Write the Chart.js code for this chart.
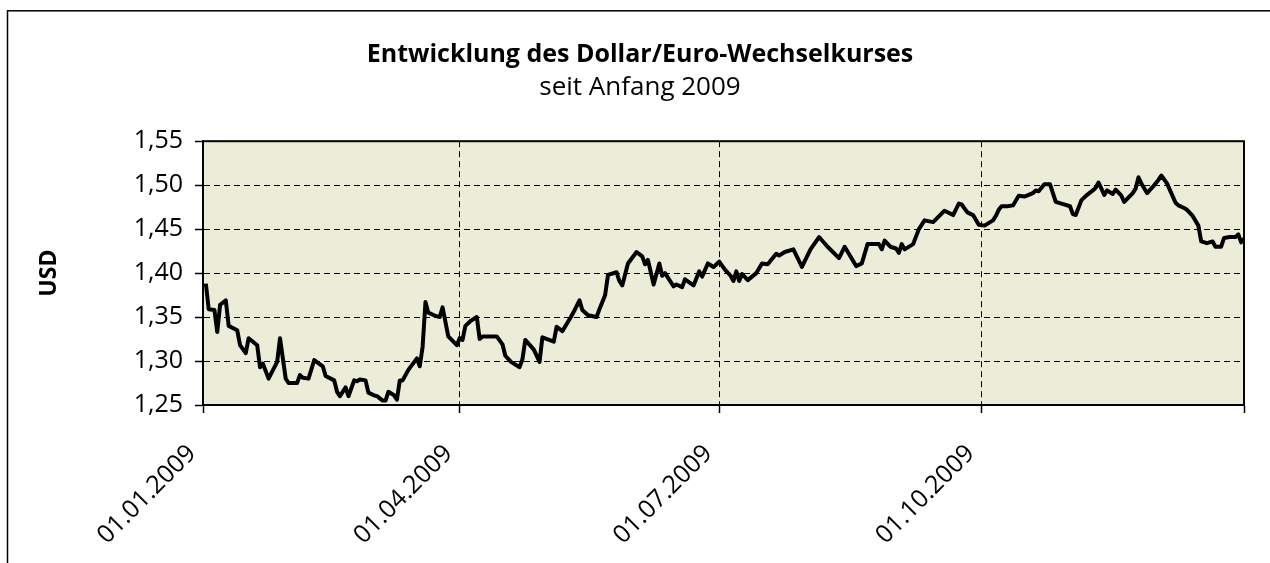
<!DOCTYPE html>
<html lang="de">
<head>
<meta charset="utf-8">
<title>Entwicklung des Dollar/Euro-Wechselkurses</title>
<script src="https://cdn.jsdelivr.net/npm/chart.js@4.4.1/dist/chart.umd.min.js"></script>
<style>
  html, body { margin: 0; padding: 0; background: #fff; }
  #wrap { width: 1270px; height: 563px; position: relative; }
</style>
</head>
<body>
<div id="wrap"><canvas id="kursChart"></canvas></div>
<script>
// Tage seit dem 01.01.2009 und der zugehoerige Kurs (USD je Euro)
const tage = [
  1, 2, 4, 5, 6, 8, 9, 12, 13, 15, 16, 19, 20, 21, 23, 26, 27, 29, 30, 33,
  34, 35, 37, 39, 42, 43, 46, 47, 48, 50, 51, 53, 54, 55, 57, 58, 60, 61, 63, 64,
  65, 67, 68, 69, 70, 72, 75, 76, 77, 78, 79, 81, 83, 84, 86, 89, 90, 91, 92, 94,
  96, 97, 98, 103, 105, 106, 108, 111, 112, 113, 116, 118, 119, 123, 124, 126, 129, 130, 132, 133,
  135, 138, 139, 141, 142, 145, 146, 147, 149, 152, 154, 155, 156, 158, 160, 161, 162, 165, 166, 168,
  169, 172, 174, 175, 177, 179, 181, 183, 185, 186, 187, 188, 189, 191, 194, 196, 198, 201, 202, 204,
  207, 210, 213, 216, 219, 223, 225, 229, 231, 233, 237, 238, 239, 241, 243, 244, 245, 246, 249, 251,
  253, 256, 260, 263, 265, 266, 268, 270, 272, 274, 277, 278, 279, 280, 282, 284, 286, 288, 291, 292,
  293, 295, 297, 299, 301, 304, 305, 306, 308, 310, 312, 313, 314, 316, 317, 319, 320, 322, 323, 326,
  327, 328, 329, 331, 333, 335, 336, 338, 341, 342, 344, 345, 347, 349, 350, 352, 354, 355, 357, 358,
  360, 362, 363, 364, 365
];
const kurse = [
  1.388, 1.359, 1.358, 1.333, 1.364, 1.369, 1.340, 1.335, 1.318, 1.309, 1.326, 1.318, 1.293, 1.297, 1.280, 1.299, 1.326, 1.280, 1.275, 1.275,
  1.284, 1.281, 1.280, 1.301, 1.294, 1.283, 1.278, 1.265, 1.260, 1.270, 1.260, 1.278, 1.277, 1.279, 1.278, 1.264, 1.261, 1.260, 1.255, 1.255,
  1.265, 1.261, 1.256, 1.278, 1.278, 1.290, 1.303, 1.294, 1.316, 1.367, 1.355, 1.352, 1.350, 1.361, 1.328, 1.318, 1.326, 1.324, 1.340, 1.346,
  1.350, 1.325, 1.328, 1.328, 1.319, 1.306, 1.299, 1.293, 1.302, 1.324, 1.313, 1.299, 1.327, 1.322, 1.339, 1.334, 1.350, 1.356, 1.369, 1.358,
  1.352, 1.350, 1.359, 1.375, 1.398, 1.401, 1.391, 1.386, 1.411, 1.424, 1.419, 1.410, 1.415, 1.387, 1.411, 1.397, 1.400, 1.385, 1.387, 1.384,
  1.393, 1.386, 1.402, 1.396, 1.411, 1.407, 1.413, 1.404, 1.397, 1.391, 1.402, 1.391, 1.399, 1.392, 1.400, 1.411, 1.410, 1.422, 1.420, 1.424,
  1.427, 1.407, 1.427, 1.441, 1.430, 1.417, 1.430, 1.408, 1.411, 1.433, 1.433, 1.427, 1.437, 1.430, 1.428, 1.423, 1.433, 1.427, 1.433, 1.450,
  1.460, 1.458, 1.471, 1.466, 1.479, 1.478, 1.469, 1.466, 1.455, 1.454, 1.460, 1.465, 1.472, 1.476, 1.476, 1.477, 1.488, 1.487, 1.491, 1.494,
  1.493, 1.501, 1.501, 1.481, 1.479, 1.476, 1.467, 1.466, 1.483, 1.489, 1.494, 1.497, 1.503, 1.489, 1.494, 1.490, 1.495, 1.488, 1.481, 1.491,
  1.496, 1.509, 1.502, 1.491, 1.498, 1.506, 1.511, 1.502, 1.480, 1.477, 1.474, 1.472, 1.465, 1.454, 1.436, 1.434, 1.436, 1.430, 1.430, 1.440,
  1.441, 1.441, 1.444, 1.435, 1.439
];

// Achsenbeschriftung
const tickTage = [0, 90, 181, 273, 365];
const tickLabels = ["01.01.2009", "01.04.2009", "01.07.2009", "01.10.2009", ""];
const yMin = 1.25;
const yMax = 1.55;
const yStep = 0.05;

const schrift = "'Open Sans', 'Noto Sans', sans-serif";

// Rahmen, Hintergrund der Zeichenflaeche und Umrandung
const rahmenPlugin = {
  id: "rahmen",
  beforeDraw(chart) {
    const ctx = chart.ctx;
    const a = chart.chartArea;
    ctx.save();
    ctx.fillStyle = "#ffffff";
    ctx.fillRect(0, 0, chart.width, chart.height);
    ctx.strokeStyle = "#000000";
    ctx.lineWidth = 1.5;
    ctx.strokeRect(7.5, 10.8, 1400, 700);
    ctx.fillStyle = "#ECEDD8";
    ctx.fillRect(a.left, a.top, a.right - a.left, a.bottom - a.top);
    ctx.restore();
  },
  afterDraw(chart) {
    const ctx = chart.ctx;
    const a = chart.chartArea;
    ctx.save();
    ctx.strokeStyle = "#000000";
    ctx.lineWidth = 2;
    ctx.strokeRect(a.left, a.top, a.right - a.left, a.bottom - a.top);
    ctx.restore();
  }
};

const ctx = document.getElementById("kursChart").getContext("2d");

new Chart(ctx, {
  type: "line",
  data: {
    datasets: [{
      label: "USD je Euro",
      data: tage.map((t, i) => ({ x: t, y: kurse[i] })),
      borderColor: "#000000",
      borderWidth: 4,
      borderJoinStyle: "round",
      pointRadius: 0,
      tension: 0,
      fill: false
    }]
  },
  options: {
    responsive: true,
    maintainAspectRatio: false,
    animation: false,
    layout: { padding: { left: 36, right: 26, top: 12, bottom: 0 } },
    plugins: {
      legend: { display: false },
      tooltip: { enabled: false },
      title: {
        display: true,
        text: "Entwicklung des Dollar/Euro-Wechselkurses",
        color: "#000000",
        font: { family: schrift, size: 25, weight: "bold", lineHeight: 1.2 },
        padding: { top: 28, bottom: 0 }
      },
      subtitle: {
        display: true,
        text: "seit Anfang 2009",
        color: "#000000",
        font: { family: schrift, size: 26, weight: "normal", lineHeight: 1.2 },
        padding: { top: 2, bottom: 38 }
      }
    },
    scales: {
      x: {
        type: "linear",
        min: 0,
        max: 365,
        afterBuildTicks: (scale) => {
          scale.ticks = tickTage.map((v) => ({ value: v }));
        },
        afterFit: (scale) => {
          scale.height = 158;
          scale.paddingLeft = 0;
          scale.paddingRight = 0;
        },
        ticks: {
          autoSkip: false,
          minRotation: 45,
          maxRotation: 45,
          padding: 26,
          labelOffset: -11,
          color: "#000000",
          font: { family: schrift, size: 25 },
          callback: (value) => tickLabels[tickTage.indexOf(value)]
        },
        grid: {
          color: "#000000",
          lineWidth: 1,
          tickLength: 8,
          tickWidth: 1.5
        },
        border: { display: true, color: "#000000", width: 2, dash: [6, 4] }
      },
      y: {
        min: yMin,
        max: yMax,
        afterFit: (scale) => { scale.width = 167; },
        ticks: {
          stepSize: yStep,
          padding: 12,
          color: "#000000",
          font: { family: schrift, size: 25 },
          callback: (value) => value.toFixed(2).replace(".", ",")
        },
        grid: {
          color: "#000000",
          lineWidth: 1,
          tickLength: 8,
          tickWidth: 1.5
        },
        border: { display: true, color: "#000000", width: 2, dash: [6, 4] },
        title: {
          display: true,
          text: "USD",
          color: "#000000",
          font: { family: schrift, size: 23, weight: "bold", lineHeight: 1 },
          padding: { top: 2, bottom: 0 }
        }
      }
    }
  },
  plugins: [rahmenPlugin]
});
</script>
</body>
</html>
